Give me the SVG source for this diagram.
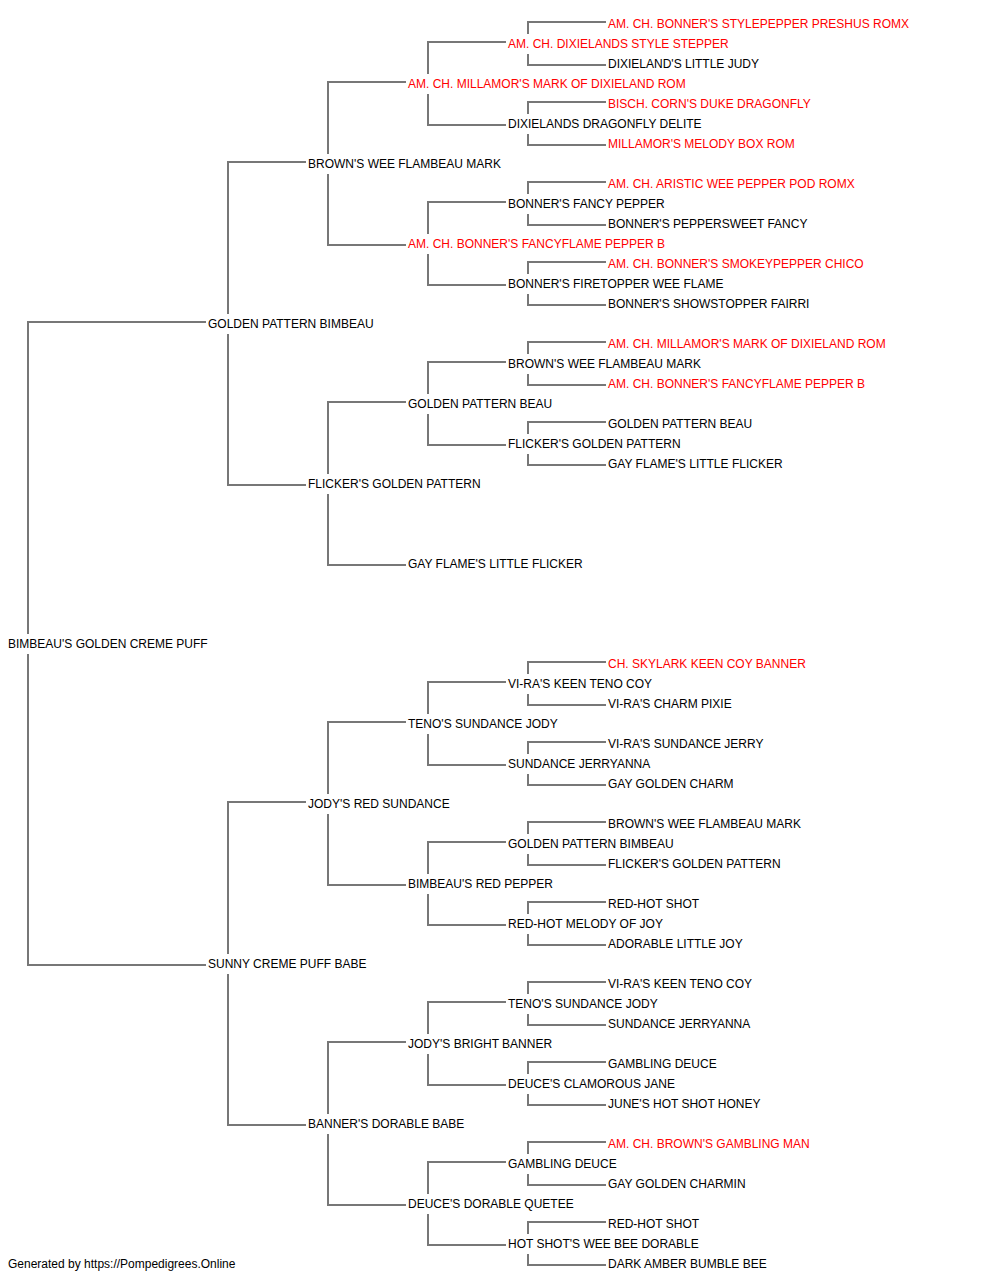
<svg xmlns="http://www.w3.org/2000/svg" width="1000" height="1280" viewBox="0 0 1000 1280">
<style>
text{font-family:"Liberation Sans",Arial,sans-serif;font-size:12px;fill:#000}
text.t{fill:#ff0000}
.c path{fill:none;stroke:#777;stroke-width:2}
</style>
<rect width="1000" height="1280" fill="#fff"/>
<g class="c" id="connectors">
<path d="M28 634V322H206M28 654V965H206"/>
<path d="M228 314V162H306M228 334V485H306M228 954V802H306M228 974V1125H306"/>
<path d="M328 154V82H406M328 174V245H406M328 474V402H406M328 494V565H406M328 794V722H406M328 814V885H406M328 1114V1042H406M328 1134V1205H406"/>
<path d="M428 74V42H506M428 94V125H506M428 234V202H506M428 254V285H506M428 394V362H506M428 414V445H506M428 714V682H506M428 734V765H506M428 874V842H506M428 894V925H506M428 1034V1002H506M428 1054V1085H506M428 1194V1162H506M428 1214V1245H506"/>
<path d="M528 34V22H606M528 54V65H606M528 114V102H606M528 134V145H606M528 194V182H606M528 214V225H606M528 274V262H606M528 294V305H606M528 354V342H606M528 374V385H606M528 434V422H606M528 454V465H606M528 674V662H606M528 694V705H606M528 754V742H606M528 774V785H606M528 834V822H606M528 854V865H606M528 914V902H606M528 934V945H606M528 994V982H606M528 1014V1025H606M528 1074V1062H606M528 1094V1105H606M528 1154V1142H606M528 1174V1185H606M528 1234V1222H606M528 1254V1265H606"/>
</g>
<g id="n0"><text x="8" y="648">BIMBEAU'S GOLDEN CREME PUFF</text></g>
<g id="n1"><text x="208" y="328">GOLDEN PATTERN BIMBEAU</text></g>
<g id="n2"><text x="208" y="968">SUNNY CREME PUFF BABE</text></g>
<g id="n3"><text x="308" y="168">BROWN'S WEE FLAMBEAU MARK</text></g>
<g id="n4"><text x="308" y="488">FLICKER'S GOLDEN PATTERN</text></g>
<g id="n5"><text x="308" y="808">JODY'S RED SUNDANCE</text></g>
<g id="n6"><text x="308" y="1128">BANNER'S DORABLE BABE</text></g>
<g id="n7"><text class="t" x="408" y="88">AM. CH. MILLAMOR'S MARK OF DIXIELAND ROM</text></g>
<g id="n8"><text class="t" x="408" y="248">AM. CH. BONNER'S FANCYFLAME PEPPER B</text></g>
<g id="n9"><text x="408" y="408">GOLDEN PATTERN BEAU</text></g>
<g id="n10"><text x="408" y="568">GAY FLAME'S LITTLE FLICKER</text></g>
<g id="n11"><text x="408" y="728">TENO'S SUNDANCE JODY</text></g>
<g id="n12"><text x="408" y="888">BIMBEAU'S RED PEPPER</text></g>
<g id="n13"><text x="408" y="1048">JODY'S BRIGHT BANNER</text></g>
<g id="n14"><text x="408" y="1208">DEUCE'S DORABLE QUETEE</text></g>
<g id="n15"><text class="t" x="508" y="48">AM. CH. DIXIELANDS STYLE STEPPER</text></g>
<g id="n16"><text x="508" y="128">DIXIELANDS DRAGONFLY DELITE</text></g>
<g id="n17"><text x="508" y="208">BONNER'S FANCY PEPPER</text></g>
<g id="n18"><text x="508" y="288">BONNER'S FIRETOPPER WEE FLAME</text></g>
<g id="n19"><text x="508" y="368">BROWN'S WEE FLAMBEAU MARK</text></g>
<g id="n20"><text x="508" y="448">FLICKER'S GOLDEN PATTERN</text></g>
<g id="n21"><text x="508" y="688">VI-RA'S KEEN TENO COY</text></g>
<g id="n22"><text x="508" y="768">SUNDANCE JERRYANNA</text></g>
<g id="n23"><text x="508" y="848">GOLDEN PATTERN BIMBEAU</text></g>
<g id="n24"><text x="508" y="928">RED-HOT MELODY OF JOY</text></g>
<g id="n25"><text x="508" y="1008">TENO'S SUNDANCE JODY</text></g>
<g id="n26"><text x="508" y="1088">DEUCE'S CLAMOROUS JANE</text></g>
<g id="n27"><text x="508" y="1168">GAMBLING DEUCE</text></g>
<g id="n28"><text x="508" y="1248">HOT SHOT'S WEE BEE DORABLE</text></g>
<g id="n29"><text class="t" x="608" y="28">AM. CH. BONNER'S STYLEPEPPER PRESHUS ROMX</text></g>
<g id="n30"><text x="608" y="68">DIXIELAND'S LITTLE JUDY</text></g>
<g id="n31"><text class="t" x="608" y="108">BISCH. CORN'S DUKE DRAGONFLY</text></g>
<g id="n32"><text class="t" x="608" y="148">MILLAMOR'S MELODY BOX ROM</text></g>
<g id="n33"><text class="t" x="608" y="188">AM. CH. ARISTIC WEE PEPPER POD ROMX</text></g>
<g id="n34"><text x="608" y="228">BONNER'S PEPPERSWEET FANCY</text></g>
<g id="n35"><text class="t" x="608" y="268">AM. CH. BONNER'S SMOKEYPEPPER CHICO</text></g>
<g id="n36"><text x="608" y="308">BONNER'S SHOWSTOPPER FAIRRI</text></g>
<g id="n37"><text class="t" x="608" y="348">AM. CH. MILLAMOR'S MARK OF DIXIELAND ROM</text></g>
<g id="n38"><text class="t" x="608" y="388">AM. CH. BONNER'S FANCYFLAME PEPPER B</text></g>
<g id="n39"><text x="608" y="428">GOLDEN PATTERN BEAU</text></g>
<g id="n40"><text x="608" y="468">GAY FLAME'S LITTLE FLICKER</text></g>
<g id="n41"><text class="t" x="608" y="668">CH. SKYLARK KEEN COY BANNER</text></g>
<g id="n42"><text x="608" y="708">VI-RA'S CHARM PIXIE</text></g>
<g id="n43"><text x="608" y="748">VI-RA'S SUNDANCE JERRY</text></g>
<g id="n44"><text x="608" y="788">GAY GOLDEN CHARM</text></g>
<g id="n45"><text x="608" y="828">BROWN'S WEE FLAMBEAU MARK</text></g>
<g id="n46"><text x="608" y="868">FLICKER'S GOLDEN PATTERN</text></g>
<g id="n47"><text x="608" y="908">RED-HOT SHOT</text></g>
<g id="n48"><text x="608" y="948">ADORABLE LITTLE JOY</text></g>
<g id="n49"><text x="608" y="988">VI-RA'S KEEN TENO COY</text></g>
<g id="n50"><text x="608" y="1028">SUNDANCE JERRYANNA</text></g>
<g id="n51"><text x="608" y="1068">GAMBLING DEUCE</text></g>
<g id="n52"><text x="608" y="1108">JUNE'S HOT SHOT HONEY</text></g>
<g id="n53"><text class="t" x="608" y="1148">AM. CH. BROWN'S GAMBLING MAN</text></g>
<g id="n54"><text x="608" y="1188">GAY GOLDEN CHARMIN</text></g>
<g id="n55"><text x="608" y="1228">RED-HOT SHOT</text></g>
<g id="n56"><text x="608" y="1268">DARK AMBER BUMBLE BEE</text></g>
<text x="8" y="1268">Generated by https://Pompedigrees.Online</text>
</svg>
